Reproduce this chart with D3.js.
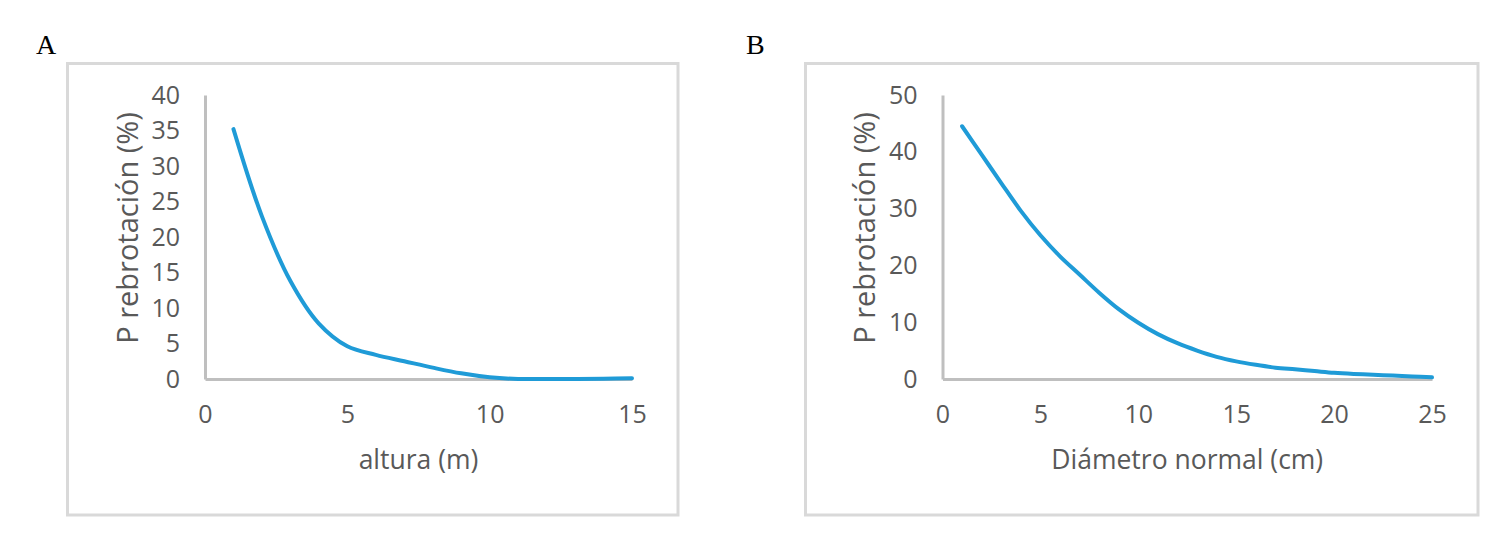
<!DOCTYPE html>
<html>
<head>
<meta charset="utf-8">
<script src="https://cdn.jsdelivr.net/npm/d3@7"></script>
<style>
  html, body { margin: 0; padding: 0; background: #ffffff; }
  svg { display: block; }
</style>
</head>
<body>
<svg id="chart" width="1499" height="541"></svg>
<script>
// ---- Data ----
const alturaM = [1, 2, 3, 4, 5, 6, 7, 8, 9, 10, 11, 12, 13, 14, 15];
const pRebrotacionAltura = [35.2, 22.9, 13.8, 7.8, 4.6, 3.4, 2.5, 1.6, 0.8, 0.25, 0, 0, 0, 0.05, 0.1];

const diametroCm = [1, 2, 3, 4, 5, 6, 7, 8, 9, 10, 11, 12, 13, 14, 15, 16, 17, 18, 19, 20, 21, 22, 23, 24, 25];
const pRebrotacionDiametro = [44.5, 39.5, 34.5, 29.6, 25.3, 21.6, 18.4, 15.2, 12.3, 9.9, 7.9, 6.3, 5.0, 3.9, 3.1, 2.5, 2.0, 1.7, 1.4, 1.1, 0.9, 0.75, 0.6, 0.45, 0.3];

const ticksAX = [0, 5, 10, 15];
const ticksAY = [0, 5, 10, 15, 20, 25, 30, 35, 40];
const ticksBX = [0, 5, 10, 15, 20, 25];
const ticksBY = [0, 10, 20, 30, 40, 50];

const panelLetters = ["A", "B"];
const xTitles = ["altura (m)", "Diámetro normal (cm)"];
const yTitle = "P rebrotación (%)";

// ---- Drawing ----
const svg = d3.select("#chart");
const FONT = "'Open Sans', 'Noto Sans', sans-serif";
const TEXT_COLOR = "#595959";
const AXIS_COLOR = "#bfbfbf";
const LINE_COLOR = "#1f9bd7";

function drawPanel(opt) {
  const g = svg.append("g");

  // outer frame
  g.append("rect")
    .attr("x", opt.frame[0]).attr("y", opt.frame[1])
    .attr("width", opt.frame[2]).attr("height", opt.frame[3])
    .attr("fill", "none").attr("stroke", "#d9d9d9").attr("stroke-width", 3);

  // panel letter
  g.append("text")
    .attr("x", opt.letterX).attr("y", 54)
    .attr("font-family", "'Liberation Serif', 'DejaVu Serif', serif")
    .attr("font-size", 28)
    .attr("fill", "#000")
    .text(opt.letter);

  const x = d3.scaleLinear().domain(opt.xDomain).range(opt.xRange);
  const y = d3.scaleLinear().domain(opt.yDomain).range([379, 95]);

  // y axis
  const yAxis = d3.axisLeft(y).tickValues(opt.yTicks).tickSize(0).tickPadding(25).tickFormat(d3.format("d"));
  const gy = g.append("g").attr("transform", `translate(${opt.xRange[0]},0)`).call(yAxis);
  gy.select(".domain").attr("stroke", AXIS_COLOR).attr("stroke-width", 3);
  gy.selectAll("text").attr("font-family", FONT).attr("font-size", 25).attr("fill", TEXT_COLOR);

  // x axis
  const xAxis = d3.axisBottom(x).tickValues(opt.xTicks).tickSize(0).tickPadding(26).tickFormat(d3.format("d"));
  const gx = g.append("g").attr("transform", `translate(0,${y(0)})`).call(xAxis);
  gx.select(".domain").attr("stroke", AXIS_COLOR).attr("stroke-width", 3);
  gx.selectAll("text").attr("font-family", FONT).attr("font-size", 25).attr("fill", TEXT_COLOR);

  // axis titles
  g.append("text")
    .attr("x", (opt.xRange[0] + opt.xRange[1]) / 2).attr("y", 469)
    .attr("text-anchor", "middle")
    .attr("font-family", FONT).attr("font-size", 26.5).attr("fill", TEXT_COLOR)
    .text(opt.xTitle);

  g.append("text")
    .attr("transform", `translate(${opt.yTitleX},228) rotate(-90)`)
    .attr("text-anchor", "middle")
    .attr("font-family", FONT).attr("font-size", 29).attr("fill", TEXT_COLOR)
    .text(yTitle);

  // series line
  const line = d3.line()
    .x((d, i) => x(opt.xs[i]))
    .y(d => y(d))
    .curve(d3.curveCatmullRom.alpha(0.5));
  g.append("path")
    .datum(opt.ys)
    .attr("d", line)
    .attr("fill", "none")
    .attr("stroke", LINE_COLOR)
    .attr("stroke-width", 4)
    .attr("stroke-linecap", "round")
    .attr("stroke-linejoin", "round");
}

drawPanel({
  frame: [67.5, 63.5, 610.5, 451.5],
  letter: panelLetters[0], letterX: 36,
  xDomain: [0, 15], xRange: [205, 632],
  yDomain: [0, 40],
  xTicks: ticksAX, yTicks: ticksAY,
  xTitle: xTitles[0], yTitleX: 138,
  xs: alturaM, ys: pRebrotacionAltura
});

drawPanel({
  frame: [805.5, 63.5, 672.5, 451.5],
  letter: panelLetters[1], letterX: 746,
  xDomain: [0, 25], xRange: [942.5, 1432],
  yDomain: [0, 50],
  xTicks: ticksBX, yTicks: ticksBY,
  xTitle: xTitles[1], yTitleX: 875,
  xs: diametroCm, ys: pRebrotacionDiametro
});
</script>
</body>
</html>
